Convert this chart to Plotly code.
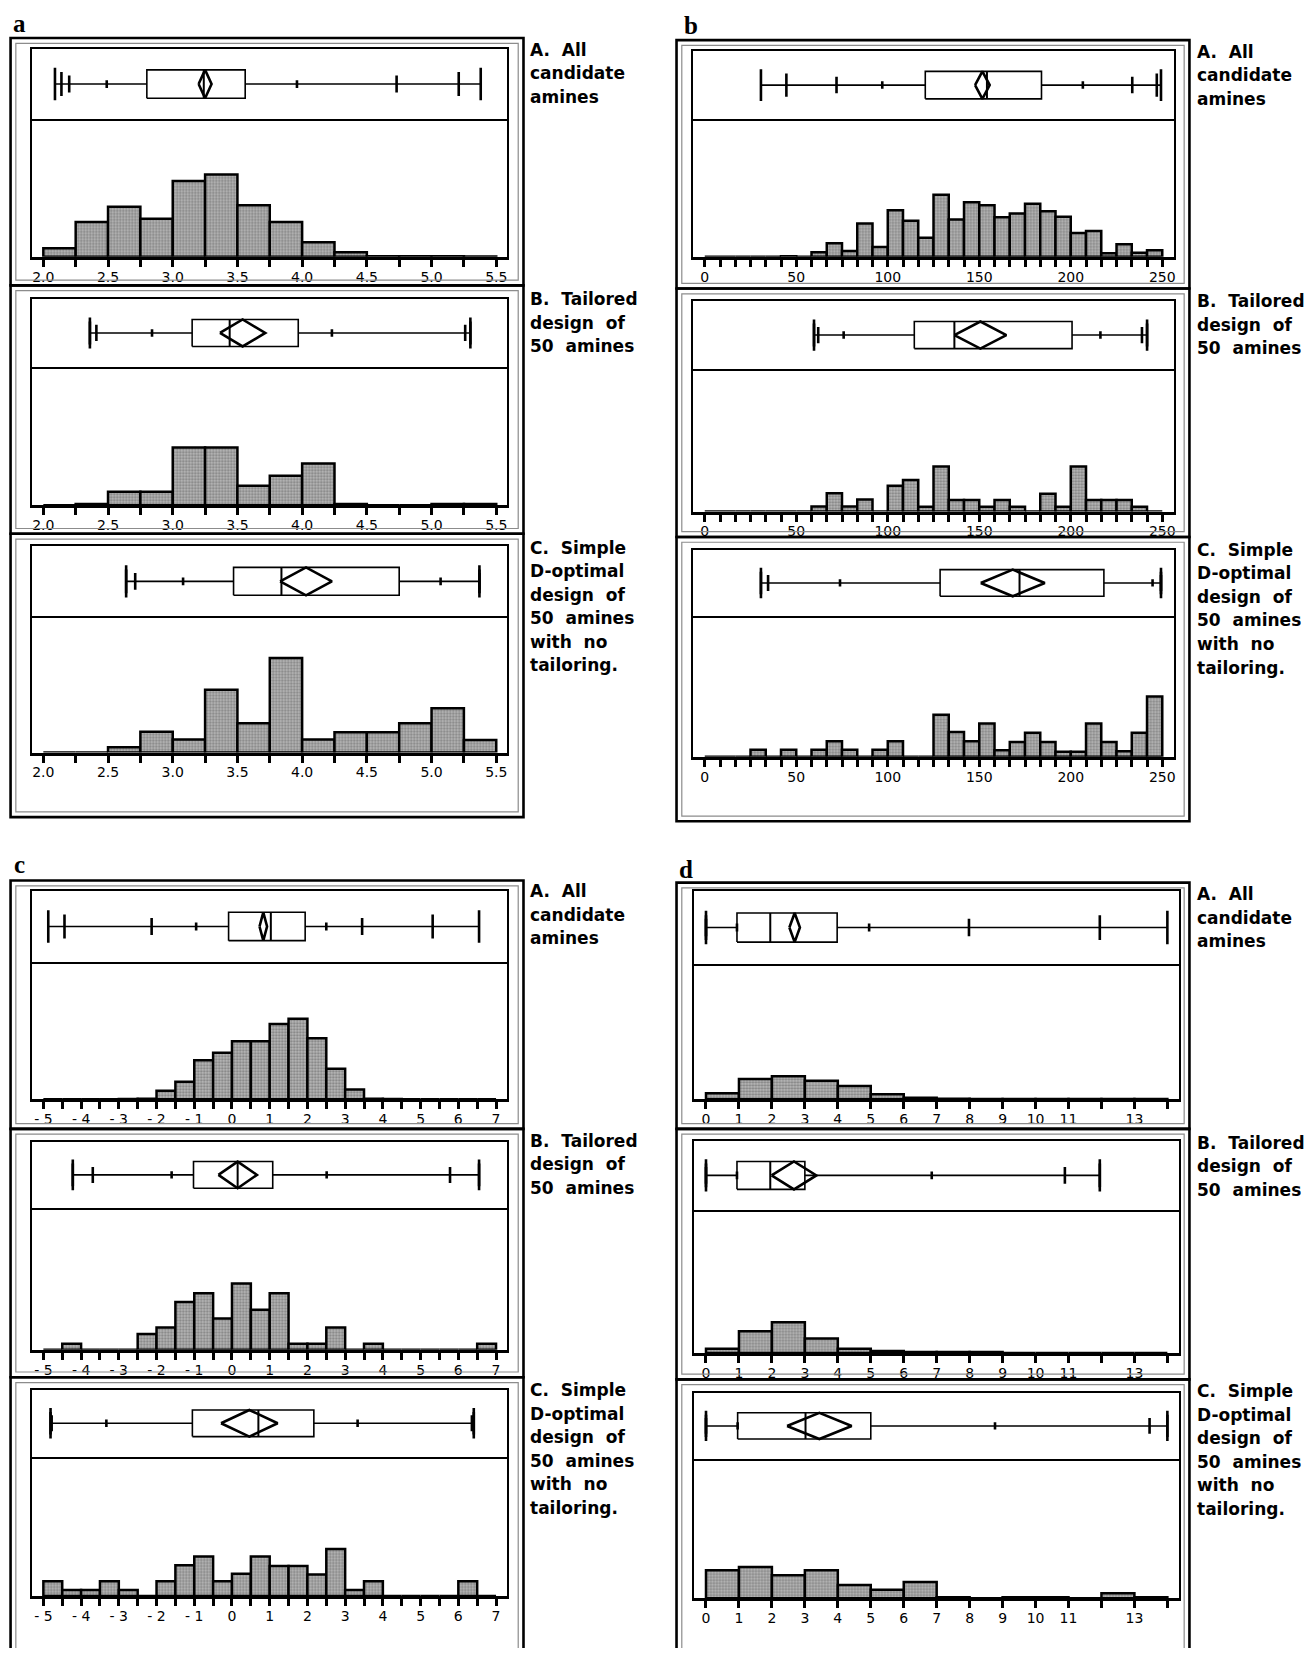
import plotly.graph_objects as go

# ======================= DATA =======================
# Quantile order used in every *_box list:
QUANTILES = ["min", "p0.5", "p2.5", "p10", "q1", "median", "q3", "p90", "p97.5", "p99.5", "max"]

# ---- panel a ----
a_bin_start, a_bin_width = 2.0, 0.25
a_tick_vals = [2.0, 2.25, 2.5, 2.75, 3.0, 3.25, 3.5, 3.75, 4.0, 4.25, 4.5, 4.75, 5.0, 5.25, 5.5]
a_tick_text = ["2.0", "", "2.5", "", "3.0", "", "3.5", "", "4.0", "", "4.5", "", "5.0", "", "5.5"]
a_A_hist = [6.3, 25.3, 36.5, 27.7, 55.2, 59.9, 37.5, 25.3, 10.7, 3.4, 0.5, 0.5, 0.5, 0.3]
a_B_hist = [0, 1.0, 9.7, 9.7, 41.7, 41.7, 14.1, 21.4, 30.1, 1.0, 0, 0, 1.0, 1.0]
a_C_hist = [0, 0, 3.9, 15.3, 9.7, 46.1, 21.6, 69.4, 9.7, 15.0, 15.0, 21.6, 32.5, 9.2]
a_A_box = [2.09, 2.14, 2.20, 2.49, 2.80, 3.24, 3.56, 3.96, 4.73, 5.21, 5.38]
a_B_box = [2.36, 2.36, 2.41, 2.84, 3.15, 3.44, 3.97, 4.23, 5.26, 5.30, 5.30]
a_C_box = [2.64, 2.64, 2.71, 3.08, 3.47, 3.84, 4.75, 5.07, 5.37, 5.37, 5.37]
a_A_mean = [3.25, 0.05]     # mean, half-width of means diamond
a_B_mean = [3.54, 0.175]
a_C_mean = [4.03, 0.20]

# ---- panel b ----
b_bin_start, b_bin_width = 0.0, 25 / 3
b_tick_vals = [0, 8.33, 16.67, 25, 33.33, 41.67, 50, 58.33, 66.67, 75, 83.33, 91.67, 100,
               108.33, 116.67, 125, 133.33, 141.67, 150, 158.33, 166.67, 175, 183.33, 191.67,
               200, 208.33, 216.67, 225, 233.33, 241.67, 250]
b_tick_text = ["0", "", "", "", "", "", "50", "", "", "", "", "", "100", "", "", "", "", "",
               "150", "", "", "", "", "", "200", "", "", "", "", "", "250"]
b_A_hist = [0, 0, 0, 0, 0, 0.5, 0, 3.4, 9.9, 4.3, 24.3, 7.2, 33.9, 26.2, 13.9, 45.2, 27.2,
            39.7, 37.5, 28.8, 31.5, 38.7, 33.2, 29.1, 17.3, 18.8, 2.6, 9.1, 2.9, 4.8]
b_B_hist = [0, 0, 0, 0, 0, 0, 0, 3.6, 12.8, 3.6, 8.4, 0, 18.1, 22.2, 3.4, 31.6, 8.2, 8.2,
            3.4, 8.2, 3.4, 0, 12.5, 3.4, 31.6, 8.2, 8.2, 8.2, 3.4, 0]
b_C_hist = [0, 0, 0, 5.1, 0, 5.1, 0, 5.1, 11.1, 5.1, 0, 5.1, 11.1, 0, 0, 30.0, 17.6, 11.1,
            23.7, 4.6, 10.6, 17.1, 10.6, 3.6, 3.6, 23.7, 10.6, 3.9, 17.1, 43.0]
b_A_box = [30.7, 44.6, 72.0, 97.0, 120.5, 154.2, 184.0, 206.6, 233.6, 247.0, 249.3]
b_B_box = [59.7, 59.7, 62.0, 75.9, 114.5, 136.4, 200.7, 216.2, 238.9, 241.7, 241.7]
b_C_box = [30.7, 30.7, 34.6, 73.9, 128.6, 172.0, 218.1, 244.7, 249.3, 249.3, 249.3]
b_A_mean = [151.7, 4.0]
b_B_mean = [150.6, 14.2]
b_C_mean = [168.3, 17.5]

# ---- panel c ----
c_bin_start, c_bin_width = -5.0, 0.5
c_tick_vals = [-5, -4.5, -4, -3.5, -3, -2.5, -2, -1.5, -1, -0.5, 0, 0.5, 1, 1.5, 2, 2.5, 3,
               3.5, 4, 4.5, 5, 5.5, 6, 6.5, 7]
c_tick_text = ["- 5", "", "- 4", "", "- 3", "", "- 2", "", "- 1", "", "0", "", "1", "", "2", "",
               "3", "", "4", "", "5", "", "6", "", "7"]
c_A_hist = [0, 0, 0, 0, 0.3, 0.5, 6.3, 12.8, 28.5, 33.8, 42.3, 42.3, 54.8, 58.7, 44.4, 22.2,
            7.2, 0.5, 0.3, 0, 0, 0, 0, 0]
c_B_hist = [0, 4.3, 0, 0, 0, 11.2, 15.7, 33.7, 39.9, 22.1, 46.8, 28.3, 39.9, 4.3, 4.3, 15.7,
            0, 4.3, 0, 0, 0, 0, 0, 4.3]
c_C_hist = [10.6, 4.3, 4.3, 10.6, 4.3, 0, 10.6, 22.1, 28.4, 10.6, 16.1, 28.4, 21.6, 21.6,
            15.4, 33.7, 4.3, 10.6, 0, 0, 0, 0, 10.6, 0]
c_A_box = [-4.87, -4.44, -2.13, -0.95, -0.09, 1.03, 1.94, 2.50, 3.45, 5.32, 6.55]
c_B_box = [-4.22, -4.22, -3.69, -1.60, -1.02, 0.15, 1.08, 2.51, 5.78, 6.55, 6.55]
c_C_box = [-4.81, -4.81, -4.78, -3.33, -1.05, 0.70, 2.17, 3.33, 6.36, 6.41, 6.41]
c_A_mean = [0.83, 0.10]
c_B_mean = [0.15, 0.51]
c_C_mean = [0.46, 0.75]

# ---- panel d ----
d_bin_start, d_bin_width = 0.0, 1.0
d_tick_vals = [0, 1, 2, 3, 4, 5, 6, 7, 8, 9, 10, 11, 12, 13, 14]
d_tick_text = ["0", "1", "2", "3", "4", "5", "6", "7", "8", "9", "10", "11", "", "13", ""]
d_A_hist = [4.4, 15.1, 17.1, 13.7, 9.8, 3.7, 1.2, 0.4, 0.3, 0.3, 0.3, 0.3, 0.3, 0.3]
d_B_hist = [2.9, 15.3, 21.6, 10.1, 2.9, 1.4, 0.7, 0.7, 0.7, 0, 0, 0, 0, 0]
d_C_hist = [20.0, 22.4, 16.4, 20.0, 9.4, 6.0, 11.6, 0.7, 0, 0.7, 0.7, 0, 3.6, 0.7]
d_A_box = [0, 0, 0, 0.94, 0.94, 1.95, 3.98, 4.95, 7.98, 11.95, 14.0]
d_B_box = [0, 0, 0, 0.94, 0.94, 1.95, 3.00, 6.85, 10.89, 11.95, 11.95]
d_C_box = [0, 0, 0, 0.96, 0.96, 3.02, 5.00, 8.77, 13.46, 14.0, 14.0]
d_A_mean = [2.69, 0.16]
d_B_mean = [2.67, 0.68]
d_C_mean = [3.44, 0.98]

row_labels = {
    "A": ["A.\u00a0\u00a0All", "candidate", "amines"],
    "B": ["B.\u00a0\u00a0Tailored", "design\u00a0\u00a0of", "50\u00a0\u00a0amines"],
    "C": ["C.\u00a0\u00a0Simple", "D-optimal", "design\u00a0\u00a0of", "50\u00a0\u00a0amines",
          "with\u00a0\u00a0no", "tailoring."],
}

# ======================= LAYOUT =======================
# Positions below are given on a 1245 x 1568 grid of the page; the page body has an
# 8 px margin, so the figure is sized to fit inside it and positions are shifted.
W, H = 1300, 1640
S = 1316 / 1245.0
PAGE_MARGIN = 8


def X(v):
    return (v * S - PAGE_MARGIN) / W


def Y(v):
    return 1 - (v * S - PAGE_MARGIN) / H


panels = [
    dict(letter="a", lpos=(18, 6), frame=(10, 496), inner=(30, 480), lx=500, xr=[1.91, 5.58],
         bin0=a_bin_start, binw=a_bin_width, tv=a_tick_vals, tt=a_tick_text, fbot=773,
         rows=[(36, 46, 113, 243, 47), (270, 283, 347, 478, 283), (505, 517, 583, 712, 518)],
         data=[(a_A_hist, a_A_box, a_A_mean), (a_B_hist, a_B_box, a_B_mean), (a_C_hist, a_C_box, a_C_mean)]),
    dict(letter="b", lpos=(655, 9), frame=(641, 1127), inner=(657, 1112), lx=1132, xr=[-6.2, 256.2],
         bin0=b_bin_start, binw=b_bin_width, tv=b_tick_vals, tt=b_tick_text, fbot=777,
         rows=[(38, 48, 113, 243, 49), (273, 285, 349, 484, 285), (508, 520, 583, 716, 520)],
         data=[(b_A_hist, b_A_box, b_A_mean), (b_B_hist, b_B_box, b_B_mean), (b_C_hist, b_C_box, b_C_mean)]),
    dict(letter="c", lpos=(18, 803), frame=(10, 496), inner=(30, 480), lx=500, xr=[-5.31, 7.28],
         bin0=c_bin_start, binw=c_bin_width, tv=c_tick_vals, tt=c_tick_text, fbot=1565,
         rows=[(833, 843, 910, 1040, 843), (1068, 1080, 1143, 1277, 1079), (1303, 1315, 1378, 1510, 1315)],
         data=[(c_A_hist, c_A_box, c_A_mean), (c_B_hist, c_B_box, c_B_mean), (c_C_hist, c_C_box, c_C_mean)]),
    dict(letter="d", lpos=(650, 808), frame=(641, 1127), inner=(658, 1117), lx=1132, xr=[-0.35, 14.35],
         bin0=d_bin_start, binw=d_bin_width, tv=d_tick_vals, tt=d_tick_text, fbot=1565,
         rows=[(835, 843, 912, 1040, 846), (1068, 1079, 1145, 1280, 1081), (1305, 1318, 1380, 1512, 1316)],
         data=[(d_A_hist, d_A_box, d_A_mean), (d_B_hist, d_B_box, d_B_mean), (d_C_hist, d_C_box, d_C_mean)]),
]

# half-lengths of quantile marks (box half-height = 0.2)
tick_half = {"min": 0.23, "p0.5": 0.17, "p2.5": 0.12, "p10": 0.055,
             "p90": 0.055, "p97.5": 0.12, "p99.5": 0.17, "max": 0.23}
BOX_H = 0.2
LINE_SP = 22.3

fig = go.Figure()
layout = dict(width=W, height=H, margin=dict(l=0, r=0, t=0, b=0),
              paper_bgcolor="white", plot_bgcolor="white", showlegend=False)
shapes, annotations = [], []

tickfont = dict(family="DejaVu Sans", size=14, color="black")

for pi, P in enumerate(panels):
    annotations.append(dict(x=X(P["lpos"][0]), y=min(1.0, Y(P["lpos"][1])), xref="paper", yref="paper",
                            text="<b>%s</b>" % P["letter"], showarrow=False,
                            xanchor="center", yanchor="top",
                            font=dict(family="Liberation Serif", size=25, color="black")))
    fx0, fx1 = P["frame"]
    for ri, (row, dat) in enumerate(zip(P["rows"], P["data"])):
        ft, top, sep, base, ly = row
        fb = P["rows"][ri + 1][0] if ri < 2 else P["fbot"]
        hist, box, mean = dat
        k = pi * 3 + ri
        nb, nh = 2 * k + 1, 2 * k + 2
        sb = "" if nb == 1 else str(nb)
        sh = str(nh)
        ix0, ix1 = P["inner"]
        # frames (double line)
        shapes.append(dict(type="rect", xref="paper", yref="paper", x0=X(fx0), x1=X(fx1),
                           y0=Y(fb), y1=Y(ft), line=dict(color="black", width=2.6)))
        shapes.append(dict(type="rect", xref="paper", yref="paper", x0=X(fx0 + 5), x1=X(fx1 - 5),
                           y0=Y(fb - 5), y1=Y(ft + 5), line=dict(color="#8c8c8c", width=1.2)))
        # axes: box region
        layout["xaxis" + sb] = dict(domain=[X(ix0), X(ix1)], range=P["xr"], anchor="y" + sb,
                                    showline=True, mirror=True, linecolor="black", linewidth=2,
                                    showticklabels=False, ticks="", showgrid=False, zeroline=False,
                                    fixedrange=True)
        layout["yaxis" + sb] = dict(domain=[Y(sep), Y(top)], range=[0, 1], anchor="x" + sb,
                                    showline=True, mirror=True, linecolor="black", linewidth=2,
                                    showticklabels=False, ticks="", showgrid=False, zeroline=False,
                                    fixedrange=True)
        # axes: histogram region
        layout["xaxis" + sh] = dict(domain=[X(ix0), X(ix1)], range=P["xr"], anchor="y" + sh,
                                    showline=True, mirror=False, linecolor="black", linewidth=3,
                                    ticks="outside", ticklen=7, tickwidth=2.5, tickcolor="black",
                                    ticklabelstandoff=-2,
                                    tickmode="array", tickvals=P["tv"], ticktext=P["tt"],
                                    tickfont=tickfont, showgrid=False, zeroline=False, fixedrange=True)
        layout["yaxis" + sh] = dict(domain=[Y(base), Y(sep)], range=[0, 100], anchor="x" + sh,
                                    showline=True, mirror=True, linecolor="black", linewidth=2,
                                    showticklabels=False, ticks="", showgrid=False, zeroline=False,
                                    fixedrange=True)
        # histogram
        centers = [P["bin0"] + P["binw"] * (i + 0.5) for i in range(len(hist))]
        fig.add_trace(go.Bar(x=centers, y=hist, width=P["binw"], xaxis="x" + sh, yaxis="y" + sh,
                             marker=dict(color="#b0b0b0",
                                         pattern=dict(shape=".", fgcolor="#444444", bgcolor="#bababa",
                                                      size=3, solidity=0.45),
                                         line=dict(color="black", width=2.5)),
                             hoverinfo="skip"))
        q = dict(zip(QUANTILES, box))
        lk = dict(color="black", width=1.6)
        # whiskers
        fig.add_trace(go.Scatter(x=[q["min"], q["q1"], None, q["q3"], q["max"]],
                                 y=[0.5, 0.5, None, 0.5, 0.5], mode="lines", line=lk,
                                 xaxis="x" + sb, yaxis="y" + sb, hoverinfo="skip"))
        # box
        fig.add_trace(go.Scatter(x=[q["q1"], q["q3"], q["q3"], q["q1"], q["q1"]],
                                 y=[0.5 - BOX_H, 0.5 - BOX_H, 0.5 + BOX_H, 0.5 + BOX_H, 0.5 - BOX_H],
                                 mode="lines", line=lk, xaxis="x" + sb, yaxis="y" + sb, hoverinfo="skip"))
        # median
        fig.add_trace(go.Scatter(x=[q["median"], q["median"]], y=[0.5 - BOX_H, 0.5 + BOX_H],
                                 mode="lines", line=dict(color="black", width=2),
                                 xaxis="x" + sb, yaxis="y" + sb, hoverinfo="skip"))
        # means diamond
        m, ci = mean
        fig.add_trace(go.Scatter(x=[m - ci, m, m + ci, m, m - ci],
                                 y=[0.5, 0.5 + BOX_H, 0.5, 0.5 - BOX_H, 0.5],
                                 mode="lines", line=dict(color="black", width=2.6),
                                 xaxis="x" + sb, yaxis="y" + sb, hoverinfo="skip"))
        # quantile marks
        tx, ty = [], []
        for name, hl in tick_half.items():
            tx += [q[name], q[name], None]
            ty += [0.5 - hl, 0.5 + hl, None]
        fig.add_trace(go.Scatter(x=tx, y=ty, mode="lines", line=dict(color="black", width=2.6),
                                 xaxis="x" + sb, yaxis="y" + sb, hoverinfo="skip"))
        # side labels
        key = "ABC"[ri]
        for li, txt in enumerate(row_labels[key]):
            annotations.append(dict(x=X(P["lx"]), y=Y(ly + li * LINE_SP), xref="paper", yref="paper",
                                    text="<b>%s</b>" % txt, showarrow=False, xanchor="left",
                                    yanchor="middle",
                                    font=dict(family="DejaVu Sans", size=17, color="black")))

layout["shapes"] = shapes
layout["annotations"] = annotations
fig.update_layout(**layout)
fig.write_html("out.html")
